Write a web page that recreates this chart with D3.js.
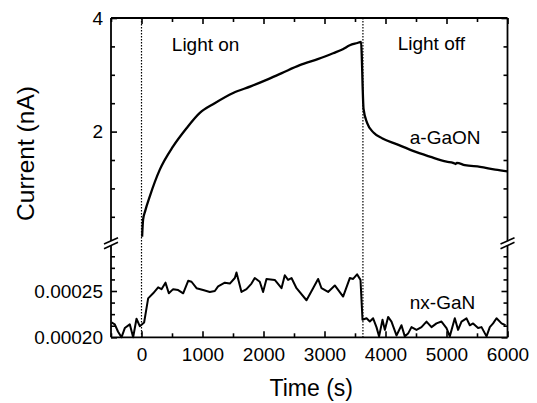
<!DOCTYPE html>
<html>
<head>
<meta charset="utf-8">
<script src="https://cdn.jsdelivr.net/npm/d3@7"></script>
<style>
  html, body { margin: 0; padding: 0; background: #fff; }
  svg { display: block; font-family: "Liberation Sans", Arial, Helvetica, sans-serif; }
</style>
</head>
<body>
<svg id="chart" width="537" height="403"></svg>
<script>
// ---------------- data ----------------
// a-GaON (upper panel, nA)
const aGaONTime = [10, 26, 60, 136, 300, 518, 738, 956, 1200, 1502, 1800, 2049, 2300, 2595, 2900, 3141, 3300, 3415, 3540, 3600,
  3612, 3625, 3640, 3700, 3807, 3950, 4180, 4450, 4726, 5000, 5108, 5150, 5170, 5300, 5550, 5800, 6000];
const aGaONCurrent = [0.15, 0.45, 0.6, 0.86, 1.33, 1.74, 2.06, 2.33, 2.5, 2.68, 2.8, 2.91, 3.03, 3.17, 3.28, 3.38, 3.45, 3.52, 3.56, 3.58,
  3.3, 2.8, 2.4, 2.15, 1.98, 1.88, 1.78, 1.66, 1.56, 1.47, 1.45, 1.43, 1.45, 1.41, 1.38, 1.33, 1.30];

// nx-GaN (lower panel, nA, in units of 1e-5)
const nxGaNTime = [-492, -438, -384, -328, -274, -192, -137, -82, -28, 43, 109, 191, 273, 328, 393, 448, 519, 601, 683, 765, 820, 902, 1010, 1120, 1202, 1256, 1366, 1448, 1530, 1557,
  1639, 1721, 1803, 1857, 1939, 1993, 2049, 2185, 2295, 2349, 2403, 2459, 2541, 2705, 2813, 2895, 2951, 3059, 3169, 3305, 3415, 3469, 3534, 3590,
  3623, 3689, 3743, 3797, 3852, 3895, 3951, 3989, 4043, 4098, 4180, 4262, 4316, 4370, 4426, 4508, 4590, 4672, 4754, 4836, 4918, 5000, 5054, 5136, 5190, 5246, 5328, 5382, 5436, 5518, 5574, 5656, 5710, 5764, 5820, 5902, 5967];
const nxGaNCurrentE5 = [21.6, 21.4, 20.6, 20.0, 21.0, 21.4, 20.0, 22.0, 21.2, 21.6, 24.2, 24.75, 25.4, 25.2, 25.9, 24.75, 25.2, 25.1, 24.75, 26.1, 26.0, 25.3, 25.1, 24.9, 25.0, 25.5, 25.9, 25.8, 26.4, 27.0,
  24.9, 25.2, 25.8, 26.4, 26.0, 24.9, 26.3, 26.2, 25.3, 26.7, 26.2, 26.4, 25.3, 24.0, 25.3, 26.3, 25.3, 24.9, 25.6, 24.4, 26.4, 26.3, 26.8, 26.2,
  21.9, 22.05, 21.7, 22.05, 21.1, 20.1, 21.9, 20.8, 22.2, 21.7, 20.2, 21.3, 20.1, 20.4, 21.1, 20.8, 21.1, 21.7, 21.1, 21.5, 21.7, 21.0, 20.1, 22.05, 20.8, 21.7, 22.05, 21.3, 21.5, 21.0, 21.1, 20.1, 21.1, 21.5, 22.05, 21.5, 21.3];

const lightEvents = [0, 3630];

const xMajorTicks = [0, 1000, 2000, 3000, 4000, 5000, 6000];
const xMinorTicks = [-500, 500, 1500, 2500, 3500, 4500, 5500];
const yTopMajorTicks = [2, 4];
const yTopMinorTicks = [0.5, 1, 1.5, 2.5, 3, 3.5];
const yBotMajorTicks = [0.00020, 0.00025];
const yBotMinorTicks = [0.0002125, 0.000225, 0.0002375, 0.0002625, 0.000275, 0.0002875];

const labels = [
  { text: "Light on", t: 497, v: 3.42 },
  { text: "Light off", t: 4200, v: 3.44 },
  { text: "a-GaON", t: 4398, v: 1.78 }
];
const labelsBottom = [{ text: "nx-GaN", t: 4398, v: 0.0002306 }];

// ---------------- layout ----------------
const svg = d3.select("#chart");
const L = 111, R = 507.5, T = 18, B = 337.3;

const x = d3.scaleLinear().domain([-500, 6000]).range([L, R]);
const yTop = d3.scaleLinear().domain([0, 4]).range([245.2, T]);
const yBot = d3.scaleLinear().domain([0.0002, 0.0003]).range([B, 244.7]);

const fontTick = 19;
const major = 6, minor = 4;

function axisGroup(axis) {
  const g = svg.append("g").call(axis);
  g.select(".domain").remove();
  g.selectAll("line").attr("stroke", "#000").attr("stroke-width", 1.6);
  g.selectAll("text").attr("fill", "#000").style("font-size", fontTick + "px")
    .style("font-family", '"Liberation Sans", Arial, sans-serif');
  return g;
}

// bottom axis
axisGroup(d3.axisBottom(x).tickValues(xMajorTicks).tickSizeInner(-major).tickSizeOuter(0).tickPadding(10).tickFormat(d3.format("d")))
  .attr("transform", `translate(0,${B})`)
  .selectAll("text").attr("dy", "0.71em");
axisGroup(d3.axisBottom(x).tickValues(xMinorTicks).tickSizeInner(-minor).tickSizeOuter(0).tickFormat(""))
  .attr("transform", `translate(0,${B})`);
// top axis
axisGroup(d3.axisTop(x).tickValues(xMajorTicks).tickSizeInner(-major).tickSizeOuter(0).tickFormat(""))
  .attr("transform", `translate(0,${T})`);
axisGroup(d3.axisTop(x).tickValues(xMinorTicks).tickSizeInner(-minor).tickSizeOuter(0).tickFormat(""))
  .attr("transform", `translate(0,${T})`);

// left axis upper
axisGroup(d3.axisLeft(yTop).tickValues(yTopMajorTicks).tickSizeInner(-major).tickSizeOuter(0).tickPadding(8).tickFormat(d3.format("d")))
  .attr("transform", `translate(${L},0)`);
axisGroup(d3.axisLeft(yTop).tickValues(yTopMinorTicks).tickSizeInner(-minor).tickSizeOuter(0).tickFormat(""))
  .attr("transform", `translate(${L},0)`);
// left axis lower
axisGroup(d3.axisLeft(yBot).tickValues(yBotMajorTicks).tickSizeInner(-major).tickSizeOuter(0).tickPadding(8).tickFormat(d3.format(".5f")))
  .attr("transform", `translate(${L},0)`);
axisGroup(d3.axisLeft(yBot).tickValues(yBotMinorTicks).tickSizeInner(-minor).tickSizeOuter(0).tickFormat(""))
  .attr("transform", `translate(${L},0)`);
// right axis
axisGroup(d3.axisRight(yTop).tickValues(yTopMajorTicks).tickSizeInner(-major).tickSizeOuter(0).tickFormat(""))
  .attr("transform", `translate(${R},0)`);
axisGroup(d3.axisRight(yTop).tickValues(yTopMinorTicks).tickSizeInner(-minor).tickSizeOuter(0).tickFormat(""))
  .attr("transform", `translate(${R},0)`);
axisGroup(d3.axisRight(yBot).tickValues(yBotMajorTicks).tickSizeInner(-major).tickSizeOuter(0).tickFormat(""))
  .attr("transform", `translate(${R},0)`);
axisGroup(d3.axisRight(yBot).tickValues(yBotMinorTicks).tickSizeInner(-minor).tickSizeOuter(0).tickFormat(""))
  .attr("transform", `translate(${R},0)`);

// frame lines (from scale ranges)
const frame = svg.append("g").attr("stroke", "#000").attr("stroke-width", 1.8).attr("fill", "none");
const brk = yBot(0.0003) - 1.5;
const gapHalf = 2.3;
frame.append("line").attr("x1", L).attr("x2", R).attr("y1", T).attr("y2", T);
frame.append("line").attr("x1", L).attr("x2", R).attr("y1", B).attr("y2", B);
[L, R].forEach(xx => {
  frame.append("line").attr("x1", xx).attr("x2", xx).attr("y1", T).attr("y2", brk - gapHalf);
  frame.append("line").attr("x1", xx).attr("x2", xx).attr("y1", brk + gapHalf).attr("y2", B);
  // break marks
  [-gapHalf, gapHalf].forEach(off => {
    frame.append("line")
      .attr("x1", xx - 7).attr("y1", brk + off + 3.2)
      .attr("x2", xx + 7).attr("y2", brk + off - 3.2)
      .attr("stroke-width", 1.6);
  });
});

// dotted event lines
svg.append("g").selectAll("line").data(lightEvents).join("line")
  .attr("x1", d => x(d)).attr("x2", d => x(d))
  .attr("y1", T).attr("y2", B)
  .attr("stroke", "#000").attr("stroke-width", 1.2)
  .attr("stroke-dasharray", "1.4,1.6");

// curves
const topData = aGaONTime.map((t, i) => [t, aGaONCurrent[i]]);
const botData = nxGaNTime.map((t, i) => [t, nxGaNCurrentE5[i] * 1e-5]);

svg.append("path").datum(topData)
  .attr("fill", "none").attr("stroke", "#000").attr("stroke-width", 2.3)
  .attr("stroke-linejoin", "round")
  .attr("d", d3.line().x(d => x(d[0])).y(d => yTop(d[1])).curve(d3.curveMonotoneX));

svg.append("path").datum(botData)
  .attr("fill", "none").attr("stroke", "#000").attr("stroke-width", 2)
  .attr("stroke-linejoin", "round")
  .attr("d", d3.line().x(d => x(d[0])).y(d => yBot(d[1])));

// annotation labels
svg.append("g").selectAll("text").data(labels).join("text")
  .attr("x", d => x(d.t)).attr("y", d => yTop(d.v))
  .attr("font-size", 19).attr("fill", "#000")
  .text(d => d.text);
svg.append("g").selectAll("text").data(labelsBottom).join("text")
  .attr("x", d => x(d.t)).attr("y", d => yBot(d.v))
  .attr("font-size", 19).attr("fill", "#000")
  .text(d => d.text);

// axis titles
svg.append("text")
  .attr("x", (L + R) / 2 + 2).attr("y", 396)
  .attr("text-anchor", "middle").attr("font-size", 23).attr("fill", "#000")
  .text("Time (s)");
svg.append("text")
  .attr("transform", `translate(34,${(85 + 222) / 2}) rotate(-90)`)
  .attr("text-anchor", "middle").attr("font-size", 24.5).attr("fill", "#000")
  .text("Current (nA)");
</script>
</body>
</html>
